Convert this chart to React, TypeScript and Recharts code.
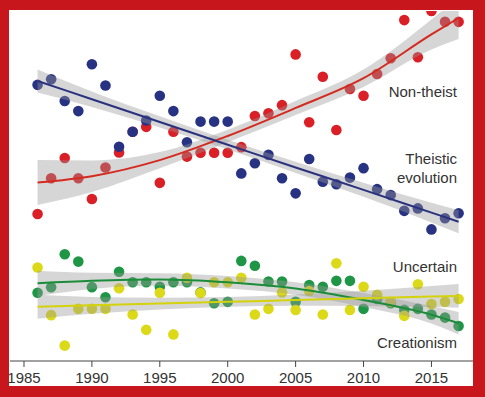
import React from 'react';
import { ComposedChart, Scatter, Line, Area, XAxis, YAxis } from 'recharts';

// survey years
const years = [
  1986, 1987, 1988, 1989, 1990, 1991, 1992, 1993, 1994, 1995, 1996,
  1997, 1998, 1999, 2000, 2001, 2002, 2003, 2004, 2005, 2006, 2007,
  2008, 2009, 2010, 2011, 2012, 2013, 2014, 2015, 2016, 2017,
];

// observed shares (y units, axis not shown)
const nonTheist = [
  42.0, 52.2, 58.0, 52.2, 46.3, 55.3, 59.6, 65.5, 66.9, 50.9, 65.5,
  58.4, 59.5, 59.5, 59.5, 61.1, 70.0, 70.8, 73.1, 87.6, 68.2, 81.2,
  66.0, 77.7, 75.8, 82.0, 86.5, 97.4, 86.8, 100.0, 96.9, 96.9,
];
const theistic = [
  78.9, 80.5, 74.3, 71.4, 84.8, 78.7, 61.2, 65.5, 68.7, 75.8, 71.4,
  62.5, 68.4, 68.4, 68.4, 53.6, 56.5, 58.9, 52.2, 47.9, 57.7, 51.2,
  50.5, 52.4, 55.1, 49.1, 47.4, 42.9, 43.6, 37.6, 40.8, 42.2,
];
const creationism = [
  19.5, 21.1, 30.5, 28.4, 21.1, 18.2, 25.5, 22.5, 22.5, 21.2, 22.5,
  22.5, 19.6, 16.5, 16.9, 28.6, 27.2, 22.7, 22.7, 16.9, 21.7, 21.2,
  22.9, 22.9, 14.9, 17.7, 16.5, 14.6, 14.9, 13.3, 12.4, 10.0,
];
const uncertain = [
  26.7, 13.1, 4.4, 14.9, 14.9, 14.9, 20.8, 13.3, 8.9, 19.5, 7.6,
  23.8, 19.4, 22.5, 22.5, 23.8, 13.3, 14.9, 19.6, 14.6, 20.0, 13.3,
  27.9, 14.6, 21.2, 18.9, 16.9, 12.9, 21.9, 16.3, 16.9, 17.7,
];

// fitted trends and their confidence bands, read at these years
const fitYears = [1986, 1990, 1995, 2000, 2005, 2010, 2015, 2017];
const nonTheistFit = [51.0, 52.8, 57.4, 64.3, 72.3, 80.8, 93.3, 98.0];
const nonTheistLo = [44.6, 48.3, 55.1, 62.5, 70.3, 78.3, 89.0, 92.0];
const nonTheistHi = [57.4, 57.3, 59.7, 66.1, 74.3, 83.3, 97.6, 104.0];
const theisticFit = [80.0, 74.8, 68.3, 61.8, 55.3, 48.9, 42.4, 39.8];
const theisticLo = [76.7, 72.6, 66.7, 60.4, 53.7, 46.9, 39.6, 36.5];
const theisticHi = [83.3, 77.0, 69.9, 63.2, 56.9, 50.9, 45.2, 43.1];
const creationismFit = [22.2, 22.9, 23.3, 22.5, 20.7, 17.4, 13.2, 10.8];
const creationismLo = [18.6, 20.6, 21.5, 20.7, 18.9, 15.4, 10.7, 7.6];
const creationismHi = [25.8, 25.2, 25.1, 24.3, 22.5, 19.4, 15.7, 14.0];
const uncertainFit = [15.5, 15.9, 16.4, 16.9, 17.4, 17.9, 18.4, 18.6];
const uncertainLo = [12.1, 13.5, 14.7, 15.5, 15.8, 15.7, 15.4, 15.2];
const uncertainHi = [18.9, 18.3, 18.1, 18.3, 19.0, 20.1, 21.4, 22.0];

const xTicks = [1985, 1990, 1995, 2000, 2005, 2010, 2015];

const RED = '#da1f26';
const BLUE = '#283282';
const GREEN = '#1e9646';
const YELLOW = '#dcd918';
const FRAME = '#c8161d';
const FONT = '"Liberation Sans", Arial, sans-serif';

const toPoints = (vals: number[]) => years.map((year, i) => ({ year, v: vals[i] }));

const fitRows = fitYears.map((year, i) => ({
  year,
  nt: nonTheistFit[i], ntBand: [nonTheistLo[i], nonTheistHi[i]],
  te: theisticFit[i], teBand: [theisticLo[i], theisticHi[i]],
  cr: creationismFit[i], crBand: [creationismLo[i], creationismHi[i]],
  un: uncertainFit[i], unBand: [uncertainLo[i], uncertainHi[i]],
}));

const dot = (color: string) => (p: any) => (
  <circle cx={p.cx} cy={p.cy} r={5.3} fill={color} />
);

const labelStyle: React.CSSProperties = {
  position: 'absolute', right: 28, fontFamily: FONT, fontSize: 15,
  lineHeight: '19px', color: '#333', textAlign: 'right', whiteSpace: 'nowrap',
};

export default function App() {
  return (
    <div style={{ position: 'absolute', left: 0, top: 0, width: 485, height: 397, background: '#fff', overflow: 'hidden' }}>
      <ComposedChart width={485} height={397} data={fitRows} margin={{ top: 11, right: 12, left: 10, bottom: 0 }}>
        <XAxis
          type="number" dataKey="year" domain={[1983.97, 2018.06]} allowDataOverflow
          ticks={xTicks} interval={0} height={36} tickSize={6} tickMargin={5}
          axisLine={{ stroke: '#444' }} tickLine={{ stroke: '#444' }}
          tick={{ fill: '#333', fontSize: 15, fontFamily: FONT }}
        />
        <YAxis type="number" domain={[0, 100]} allowDataOverflow hide />

        <Scatter data={toPoints(nonTheist)} dataKey="v" shape={dot(RED)} isAnimationActive={false} zIndex={50} />
        <Scatter data={toPoints(theistic)} dataKey="v" shape={dot(BLUE)} isAnimationActive={false} zIndex={50} />
        <Scatter data={toPoints(creationism)} dataKey="v" shape={dot(GREEN)} isAnimationActive={false} zIndex={50} />
        <Scatter data={toPoints(uncertain)} dataKey="v" shape={dot(YELLOW)} isAnimationActive={false} zIndex={50} />

        <Area type="monotone" dataKey="ntBand" stroke="none" fill="#999" fillOpacity={0.4} isAnimationActive={false} zIndex={100} />
        <Area type="monotone" dataKey="teBand" stroke="none" fill="#999" fillOpacity={0.4} isAnimationActive={false} zIndex={100} />
        <Area type="monotone" dataKey="crBand" stroke="none" fill="#999" fillOpacity={0.4} isAnimationActive={false} zIndex={100} />
        <Area type="monotone" dataKey="unBand" stroke="none" fill="#999" fillOpacity={0.4} isAnimationActive={false} zIndex={100} />

        <Line type="monotone" dataKey="nt" stroke="#d42a20" strokeWidth={2} dot={false} isAnimationActive={false} zIndex={400} />
        <Line type="monotone" dataKey="te" stroke="#2a327f" strokeWidth={2} dot={false} isAnimationActive={false} zIndex={400} />
        <Line type="monotone" dataKey="cr" stroke="#1b8c3a" strokeWidth={2} dot={false} isAnimationActive={false} zIndex={400} />
        <Line type="monotone" dataKey="un" stroke="#d4d20a" strokeWidth={2} dot={false} isAnimationActive={false} zIndex={400} />
      </ComposedChart>

      <div style={{ ...labelStyle, top: 81.5 }}>Non-theist</div>
      <div style={{ ...labelStyle, top: 149 }}>Theistic<br />evolution</div>
      <div style={{ ...labelStyle, top: 257 }}>Uncertain</div>
      <div style={{ ...labelStyle, top: 332.5 }}>Creationism</div>

      {/* red frame */}
      <div style={{ position: 'absolute', left: 0, top: 0, width: 485, height: 10, background: FRAME }} />
      <div style={{ position: 'absolute', left: 0, top: 386, width: 485, height: 11, background: FRAME }} />
      <div style={{ position: 'absolute', left: 0, top: 0, width: 9, height: 397, background: FRAME }} />
      <div style={{ position: 'absolute', left: 473, top: 0, width: 12, height: 397, background: FRAME }} />
    </div>
  );
}
